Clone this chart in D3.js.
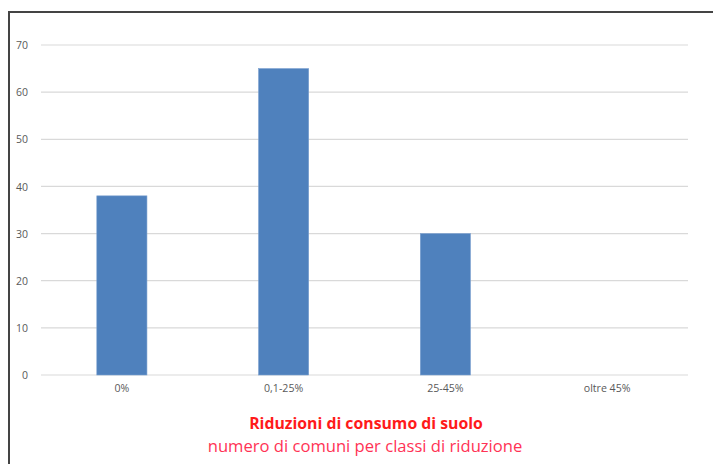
<!DOCTYPE html>
<html><head><meta charset="utf-8">
<script src="https://cdn.jsdelivr.net/npm/d3@7"></script>
<style>body{margin:0;background:#fff}svg{display:block}</style>
</head><body>
<svg id="c" width="713" height="464"></svg>
<script>
const categories = ["0%", "0,1-25%", "25-45%", "oltre 45%"];
const values = [38, 65, 30, 0];
const yTicks = [0, 10, 20, 30, 40, 50, 60, 70];
const title = "Riduzioni di consumo di suolo";
const subtitle = "numero di comuni per classi di riduzione";

const svg = d3.select("#c");
const font = "'Open Sans', sans-serif";
// frame
svg.append("line").attr("x1", 9).attr("x2", 713).attr("y1", 12).attr("y2", 12).attr("stroke", "#444").attr("stroke-width", 2);
svg.append("line").attr("x1", 9).attr("x2", 9).attr("y1", 11).attr("y2", 464).attr("stroke", "#444").attr("stroke-width", 2);

const x = d3.scaleBand().domain(categories).range([41, 688]).paddingInner(0.69).paddingOuter(0.345);
const y = d3.scaleLinear().domain([0, 70]).range([375, 45]);

const g = svg.append("g");
g.selectAll("line.grid").data(yTicks).join("line").attr("class", "grid")
  .attr("x1", 41).attr("x2", 688).attr("y1", d => y(d)).attr("y2", d => y(d))
  .attr("stroke", "#d9d9d9").attr("stroke-width", 1.2);

const yAxis = svg.append("g").attr("transform", "translate(28,0)")
  .call(d3.axisLeft(y).tickValues(yTicks).tickSize(0).tickPadding(0));
yAxis.select(".domain").remove();
yAxis.selectAll("text").attr("font-family", font).attr("font-size", 10.5).attr("fill", "#595959").attr("dy", "0.35em");

g.selectAll("rect.bar").data(values).join("rect").attr("class", "bar")
  .attr("x", (d, i) => x(categories[i])).attr("width", x.bandwidth())
  .attr("y", d => y(d)).attr("height", d => y(0) - y(d))
  .attr("fill", "#4f81bd").attr("stroke", "#7aa0cf").attr("stroke-width", 0.6);

const xAxis = svg.append("g").attr("transform", "translate(0,375)")
  .call(d3.axisBottom(x).tickSize(0).tickPadding(0));
xAxis.select(".domain").remove();
xAxis.selectAll("text").attr("font-family", font).attr("font-size", 10.6).attr("fill", "#595959").attr("dy", "17px");

svg.append("text").attr("x", 366).attr("y", 429).attr("text-anchor", "middle")
  .attr("font-family", font).attr("font-weight", "bold").attr("font-size", 15.8).attr("fill", "#ff1a1a").text(title);
svg.append("text").attr("x", 365).attr("y", 452).attr("text-anchor", "middle")
  .attr("font-family", font).attr("font-size", 16.6).attr("fill", "#ff3355").text(subtitle);
</script>
</body></html>
